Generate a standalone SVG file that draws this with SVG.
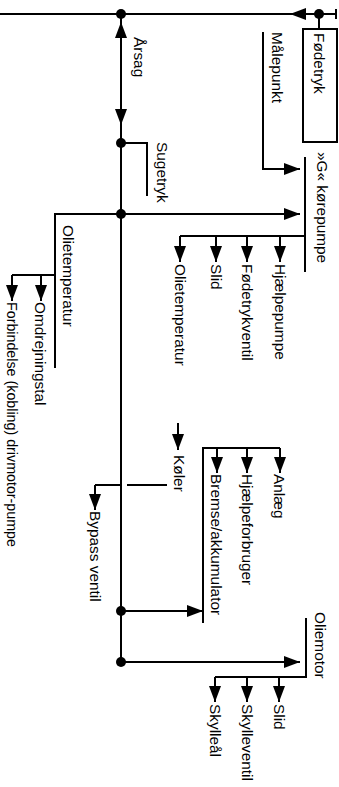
<svg xmlns="http://www.w3.org/2000/svg" width="339" height="787" viewBox="0 0 339 787">
<style>
.ln{fill:none;stroke:#000;stroke-width:2}
.ar{fill:none;stroke:#000;stroke-width:2;marker-end:url(#ah)}
.dot{fill:#000}
.t{font-family:"Liberation Sans",Arial,sans-serif;font-size:14px;fill:#000}
</style>
<defs>
<marker id="ah" markerUnits="userSpaceOnUse" markerWidth="17" markerHeight="13" refX="16" refY="6" orient="auto">
<path d="M0,0 L16,6 L0,12 z" fill="#000"/>
</marker>
</defs>
<rect width="339" height="787" fill="#fff"/>
<g id="connectors">
<path class="ln" d="M0,14 H336 M336,9 V19"/>
<path class="ar" d="M319,14 H290"/>
<path class="ln" d="M319,14 V29"/>
<path class="ln" d="M121,14 V662"/>
<path class="ar" d="M121,70 V22"/>
<path class="ar" d="M121,70 V125"/>
<path class="ln" d="M121,143 H147 V196"/>
<path class="ar" d="M263,32 V169 H300"/>
<path class="ar" d="M121,214 H300"/>
<path class="ln" d="M305,157 V272"/>
<path class="ln" d="M305,236 H180"/>
<path class="ar" d="M180,236 V262"/>
<path class="ar" d="M216,236 V262"/>
<path class="ar" d="M247,236 V262"/>
<path class="ar" d="M280,236 V262"/>
<path class="ln" d="M121,214 H55 V368"/>
<path class="ln" d="M55,275 H12"/>
<path class="ar" d="M12,275 V301"/>
<path class="ar" d="M41,275 V301"/>
<path class="ar" d="M178,423 V450"/>
<path class="ln" d="M167,485 H127"/>
<path class="ln" d="M120,485 H95"/>
<path class="ar" d="M95,485 V510"/>
<path class="ln" d="M203,623 V448 H280"/>
<path class="ar" d="M217,448 V473"/>
<path class="ar" d="M247,448 V473"/>
<path class="ar" d="M280,448 V473"/>
<path class="ar" d="M121,611 H203"/>
<path class="ln" d="M306,618 V677 H215"/>
<path class="ar" d="M121,662 H300"/>
<path class="ar" d="M215,677 V702"/>
<path class="ar" d="M247,677 V702"/>
<path class="ar" d="M279,677 V702"/>
<circle class="dot" cx="121" cy="14" r="5"/>
<circle class="dot" cx="319" cy="14" r="5"/>
<circle class="dot" cx="121" cy="143" r="5"/>
<circle class="dot" cx="121" cy="214" r="5"/>
<circle class="dot" cx="121" cy="611" r="5"/>
<circle class="dot" cx="121" cy="662" r="5"/>
</g>
<g id="fodetryk"><rect class="ln" x="303" y="29" width="34" height="113"/><text class="t" transform="translate(314,33) rotate(90) scale(1.1,1)">Fødetryk</text></g>
<g id="malepunkt"><text class="t" transform="translate(272,32) rotate(90) scale(1.1,1)">Målepunkt</text></g>
<g id="arsag"><text class="t" transform="translate(134,37) rotate(90) scale(1.1,1)">Årsag</text></g>
<g id="sugetryk"><text class="t" transform="translate(157,142) rotate(90) scale(1.1,1)">Sugetryk</text></g>
<g id="korepumpe"><text class="t" transform="translate(317,152) rotate(90) scale(1.1,1)">»G« kørepumpe</text></g>
<g id="hjaelpepumpe"><text class="t" transform="translate(275,264) rotate(90) scale(1.1,1)">Hjælpepumpe</text></g>
<g id="fodetrykventil"><text class="t" transform="translate(242,264) rotate(90) scale(1.1,1)">Fødetrykventil</text></g>
<g id="slid1"><text class="t" transform="translate(211,264) rotate(90) scale(1.1,1)">Slid</text></g>
<g id="olietemp1"><text class="t" transform="translate(175,264) rotate(90) scale(1.1,1)">Olietemperatur</text></g>
<g id="olietemp2"><text class="t" transform="translate(63,225) rotate(90) scale(1.1,1)">Olietemperatur</text></g>
<g id="omdrejningstal"><text class="t" transform="translate(35,302) rotate(90) scale(1.1,1)">Omdrejningstal</text></g>
<g id="forbindelse"><text class="t" transform="translate(7,302) rotate(90) scale(1.02,1)">Forbindelse (kobling) drivmotor-pumpe</text></g>
<g id="koler"><text class="t" transform="translate(174,455) rotate(90) scale(1.1,1)">Køler</text></g>
<g id="bypass"><text class="t" transform="translate(90,511) rotate(90) scale(1.1,1)">Bypass ventil</text></g>
<g id="anlaeg"><text class="t" transform="translate(274,474) rotate(90) scale(1.1,1)">Anlæg</text></g>
<g id="hjaelpeforbruger"><text class="t" transform="translate(242,474) rotate(90) scale(1.1,1)">Hjælpeforbruger</text></g>
<g id="bremse"><text class="t" transform="translate(211,474) rotate(90) scale(1.1,1)">Bremse/akkumulator</text></g>
<g id="oliemotor"><text class="t" transform="translate(315,612) rotate(90) scale(1.1,1)">Oliemotor</text></g>
<g id="slid2"><text class="t" transform="translate(274,704) rotate(90) scale(1.1,1)">Slid</text></g>
<g id="skylleventil"><text class="t" transform="translate(242,704) rotate(90) scale(1.1,1)">Skylleventil</text></g>
<g id="skylleal"><text class="t" transform="translate(210,704) rotate(90) scale(1.1,1)">Skylleål</text></g>
</svg>
